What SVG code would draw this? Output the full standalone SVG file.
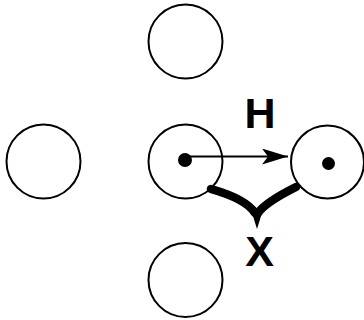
<svg xmlns="http://www.w3.org/2000/svg" width="364" height="320" viewBox="0 0 364 320">
<style>
.site{fill:none;stroke:#000;stroke-width:2}
.dot{fill:#000}
.lbl{font-family:"Liberation Sans",Arial,sans-serif;font-weight:bold;font-size:43px;fill:#000;text-anchor:middle}
.brace{fill:none;stroke:#000;stroke-width:8.5;stroke-linecap:round}
</style>
<defs>
<marker id="ah" viewBox="0 0 26 16" refX="26" refY="8" markerWidth="26" markerHeight="16" markerUnits="userSpaceOnUse" orient="auto">
<path d="M0,0 L26,8 L0,16 L6,8 Z" fill="#000"/>
</marker>
</defs>
<rect width="364" height="320" fill="#fff"/>
<g id="top"><circle class="site" cx="185.5" cy="41.5" r="37"/></g>
<g id="left"><circle class="site" cx="43.5" cy="161.5" r="37"/></g>
<g id="center"><circle class="site" cx="185.5" cy="161.5" r="37"/><circle class="dot" cx="185" cy="160" r="7"/></g>
<g id="right"><circle class="site" cx="327.5" cy="162" r="36.5"/><circle class="dot" cx="328.5" cy="163.5" r="6.5"/></g>
<g id="bottom"><circle class="site" cx="185.5" cy="280" r="37"/></g>
<g id="connectors">
<line x1="185" y1="156.5" x2="288" y2="156.5" stroke="#000" stroke-width="2" marker-end="url(#ah)"/>
<path class="brace" d="M211,189 C232,195 248,202 255,213"/>
<path class="brace" d="M296,187 C282,194 265,203 258,213"/>
<path d="M250.5,208 L263.5,208 L257,229 Z" fill="#000"/>
</g>
<text class="lbl" x="260" y="128">H</text>
<text class="lbl" x="259.5" y="266">X</text>
</svg>
